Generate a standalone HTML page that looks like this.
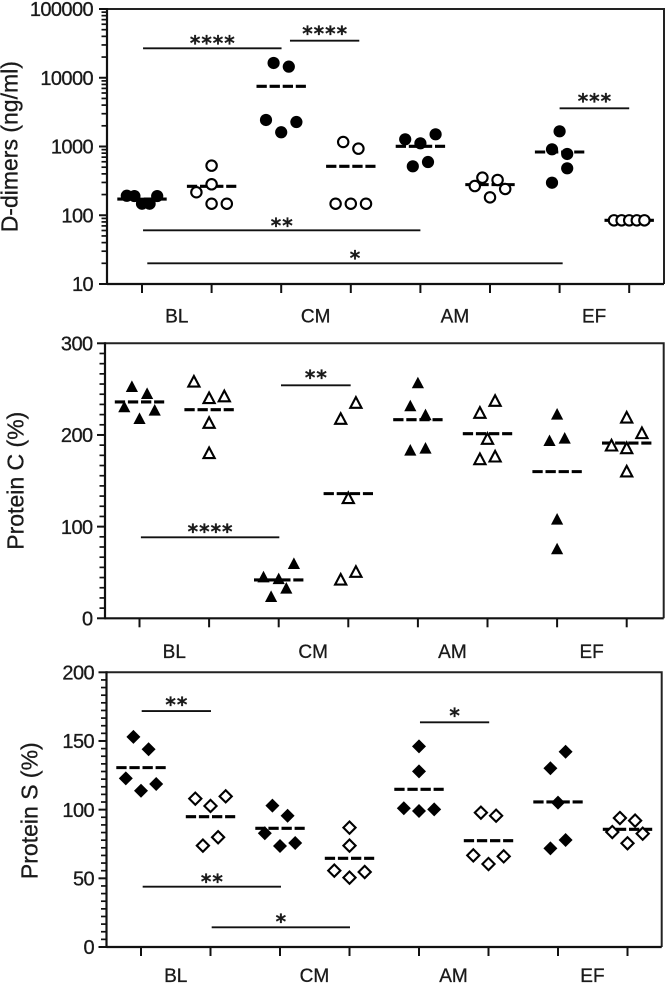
<!DOCTYPE html>
<html lang="en">
<head>
<meta charset="utf-8">
<title>Coagulation markers by group</title>
<style>
html,body{margin:0;padding:0;background:#fff;width:666px;height:984px;overflow:hidden}
svg{display:block}
text{font-family:"Liberation Sans",sans-serif;fill:#1a1a1a;stroke:#1a1a1a;stroke-width:0.3px}
</style>
</head>
<body>
<svg id="figure" width="666" height="984" viewBox="0 0 666 984" xmlns="http://www.w3.org/2000/svg"></svg>
<script>
const categories = ["BL", "CM", "AM", "EF"];

/* D-dimers (ng/ml) */
const dDimerTicks = [10, 100, 1000, 10000, 100000];
const dDimerValues = [
  [192, 190, 147, 147, 190],
  [216, 526, 282, 147, 147],
  [16400, 14500, 2430, 1610, 2270],
  [1162, 930, 147, 147, 147],
  [1273, 1112, 1503, 515, 595],
  [352, 326, 266, 241, 182],
  [1663, 910, 778, 482, 297],
  [84.4, 84.4, 84.4, 84.4, 84.4]
];
const dDimerSwarm = [
  [-2, -1, 0, 1, 2],
  [-2, 0, 0, 0, 2],
  [-1, 1, -2, 0, 2],
  [-1, 1, -2, 0, 2],
  [-2, 0, 2, -1, 1],
  [-1, 1, -2, 2, 0],
  [0, -1, 1, 1, -1],
  [-2, -1, 0, 1, 2]
];
const dDimerMeans = [172, 264, 7510, 515, 1007, 279, 832, 84.4];
const dDimerBracketFrom = [0.015, 2.126, 6, 0.015, 0.076];
const dDimerBracketTo = [2.005, 3.122, 7, 4, 6.044];
const dDimerBracketLevel = [26800, 34600, 3596, 60.4, 20];
const dDimerBracketStars = ["****", "****", "***", "**", "*"];
const dDimerBracketGap = [7.6, 9.7, 9.6, 7.3, 7.6];

/* Protein C (%) */
const proteinCTicks = [0, 100, 200, 300];
const proteinCValues = [
  [252.7, 245, 230.5, 226.9, 217.8],
  [258, 240, 242, 213, 180],
  [59.6, 45, 43, 32.7, 23.6],
  [234.9, 217.4, 130.9, 42, 50.5],
  [256.7, 231.6, 221.8, 183.3, 185.4],
  [237, 224, 195.6, 173.4, 176.3],
  [222.5, 193.7, 196.4, 108, 75.6],
  [218.8, 201.8, 188.3, 185.4, 160]
];
const proteinCSwarm = [
  [-1, 1, -2, 2, 0],
  [-2, 0, 2, 0, 0],
  [2, -2, 0, 1, -1],
  [1, -1, 0, -1, 1],
  [0, -1, 1, -1, 1],
  [1, -1, 0, -1, 1],
  [0, -1, 1, 0, 0],
  [0, 2, -2, 0, 0]
];
const proteinCMeans = [236, 227.6, 41.8, 136, 216.7, 201.4, 160, 191.2];
const proteinCBracketFrom = [2.033, 0.02];
const proteinCBracketTo = [3.034, 2.009];
const proteinCBracketLevel = [254.2, 88.4];
const proteinCBracketStars = ["**", "****"];
const proteinCBracketGap = [10, 8];

/* Protein S (%) */
const proteinSTicks = [0, 50, 100, 150, 200];
const proteinSValues = [
  [153, 144, 122.8, 118.7, 113.8],
  [108, 102.7, 109.7, 73.8, 79.9],
  [102.9, 95.6, 82.8, 75.7, 73.5],
  [86.9, 73.8, 55.6, 54.6, 50.5],
  [146.1, 127.9, 101, 99, 100.2],
  [97.8, 95.6, 66.7, 66, 60.4],
  [142.2, 130.1, 105.1, 77.9, 71.8],
  [93.9, 92, 83.7, 82.5, 75.5]
];
const proteinSSwarm = [
  [-1, 1, -2, 2, 0],
  [-2, 0, 2, -1, 1],
  [-1, 1, -2, 2, 0],
  [0, 0, -2, 2, 0],
  [0, 0, -2, 0, 2],
  [-1, 1, -2, 2, 0],
  [1, -1, 0, 1, -1],
  [-1, 1, -2, 2, 0]
];
const proteinSMeans = [130.6, 94.9, 86.4, 64.6, 114.8, 77.4, 105.6, 85.7];
const proteinSBracketFrom = [0.01, 0.024, 1.017, 4.014];
const proteinSBracketTo = [1.007, 2.014, 3.007, 5.01];
const proteinSBracketLevel = [171.8, 43.9, 14.3, 163.6];
const proteinSBracketStars = ["**", "**", "*", "*"];
const proteinSBracketGap = [9, 7.4, 8.3, 9];

const svg = document.getElementById('figure');
const NS = 'http://www.w3.org/2000/svg';

function make(tag, attrs, parent, text) {
  const el = document.createElementNS(NS, tag);
  for (const k in attrs) el.setAttribute(k, attrs[k]);
  if (text !== undefined) el.textContent = text;
  parent.appendChild(el);
  return el;
}

function drawMarker(g, shape, filled, cx, cy, name) {
  const fill = filled ? '#000' : '#fff';
  const sw = filled ? 0 : 2.1;
  let el;
  if (shape === 'circle') {
    el = make('circle', {cx: cx, cy: cy, r: filled ? 6.1 : 5.2, fill: fill, stroke: '#000', 'stroke-width': sw}, g);
  } else if (shape === 'triangle') {
    const h = filled ? 5.9 : 5.4;
    const pts = [[cx, cy - h - 0.4], [cx + h + 0.2, cy + h - 0.6], [cx - h - 0.2, cy + h - 0.6]];
    el = make('polygon', {points: pts.map(p => p.join(',')).join(' '), fill: fill, stroke: '#000', 'stroke-width': sw}, g);
  } else {
    const d = filled ? 7 : 6.1;
    const pts = [[cx, cy - d], [cx + d, cy], [cx, cy + d], [cx - d, cy]];
    el = make('polygon', {points: pts.map(p => p.join(',')).join(' '), fill: fill, stroke: '#000', 'stroke-width': sw}, g);
  }
  
  
}

function drawPanel(p) {
  const panel = make('g', {}, svg);
  
  

  const x = i => p.x0 + i * p.step;
  const y = p.log
    ? v => p.bottom - (Math.log10(v) - Math.log10(p.min)) / (Math.log10(p.max) - Math.log10(p.min)) * (p.bottom - p.top)
    : v => p.bottom - (v - p.min) / (p.max - p.min) * (p.bottom - p.top);

  /* frame */
  const frame = make('path', {d: `M${p.left} ${p.top}H${p.right}V${p.bottom}`, fill: 'none', stroke: '#222', 'stroke-width': 2}, panel);
  
  
  const yAxis = make('line', {x1: p.left, x2: p.left, y1: p.top - 1, y2: p.bottom + 1, stroke: '#111', 'stroke-width': 2.2}, panel);
  
  
  const xAxis = make('line', {x1: p.left, x2: p.right, y1: p.bottom, y2: p.bottom, stroke: '#111', 'stroke-width': 2.2}, panel);
  
  

  /* y ticks */
  p.ticks.forEach((t, i) => {
    const tick = make('line', {x1: p.left - 8, x2: p.left, y1: y(t), y2: y(t), stroke: '#111', 'stroke-width': 2}, panel);
    
    
    const label = make('text', {x: p.labelX, y: y(t) + 7.2, 'text-anchor': 'end', 'font-size': 20, 'letter-spacing': -0.6}, panel, String(t));
    
    
    if (i < p.ticks.length - 1) {
      for (let m = 1; m < 9; m++) {
        const v = p.log ? t * (m + 1) : t + (p.ticks[i + 1] - t) * m / 9;
        const minor = make('line', {x1: p.left - 5.5, x2: p.left, y1: y(v), y2: y(v), stroke: '#111', 'stroke-width': 1.7}, panel);
        
        
      }
    }
  });

  /* x ticks */
  for (let i = 0; i < 8; i++) {
    const tick = make('line', {x1: x(i), x2: x(i), y1: p.bottom, y2: p.bottom + 9, stroke: '#111', 'stroke-width': 2}, panel);
    
    
  }

  /* category labels */
  categories.forEach((c, i) => {
    const label = make('text', {x: x(2 * i) + p.step / 2 - (i > 0 ? 0.3 : 0), y: p.catY, 'text-anchor': 'middle', 'font-size': 19}, panel, c);
    
    
  });

  /* y title */
  const title = make('text', {transform: `translate(${p.titleX} ${p.titleY}) rotate(-90)`, 'text-anchor': 'middle', 'font-size': 23}, panel, p.title);
  
  

  /* series */
  p.values.forEach((group, gi) => {
    const g = make('g', {}, panel);
    
    
    const mean = make('line', {x1: x(gi) - 24.7, x2: x(gi) + 24.7, y1: y(p.means[gi]), y2: y(p.means[gi]), stroke: '#000', 'stroke-width': 3.1, 'stroke-dasharray': '10.3 2.8'}, g);
    
    
    group.forEach((v, k) => {
      drawMarker(g, p.shape, gi % 2 === 0, x(gi) + p.swarm[gi][k] * 7.6, y(v), p.name + '-point');
    });
  });

  /* significance brackets */
  p.bFrom.forEach((f, i) => {
    const x1 = x(f), x2 = x(p.bTo[i]), by = y(p.bLevel[i]);
    const bar = make('line', {x1: x1, x2: x2, y1: by, y2: by, stroke: '#111', 'stroke-width': 1.9}, panel);
    
    
    const stars = make('text', {x: (x1 + x2) / 2 + 0.5, y: by - p.bGap[i] + 9.4, 'text-anchor': 'middle', 'font-size': 20, 'font-weight': 'bold', 'letter-spacing': 1}, panel, p.bStars[i]);
    stars.style.fontFamily = '"DejaVu Sans",sans-serif';
    
    
  });
}

drawPanel({
  name: 'd-dimers', log: true, min: 10, max: 100000,
  left: 107, right: 664, top: 9, bottom: 284, x0: 142, step: 69.6,
  labelX: 93, catY: 322.7, title: 'D-dimers (ng/ml)', titleX: 17.5, titleY: 146.7,
  shape: 'circle', ticks: dDimerTicks, values: dDimerValues, swarm: dDimerSwarm, means: dDimerMeans,
  bFrom: dDimerBracketFrom, bTo: dDimerBracketTo, bLevel: dDimerBracketLevel, bStars: dDimerBracketStars, bGap: dDimerBracketGap
});
drawPanel({
  name: 'protein-c', log: false, min: 0, max: 300,
  left: 105, right: 663.7, top: 343.3, bottom: 618.3, x0: 139.5, step: 69.6,
  labelX: 92.5, catY: 658, title: 'Protein C (%)', titleX: 23.5, titleY: 480.7,
  shape: 'triangle', ticks: proteinCTicks, values: proteinCValues, swarm: proteinCSwarm, means: proteinCMeans,
  bFrom: proteinCBracketFrom, bTo: proteinCBracketTo, bLevel: proteinCBracketLevel, bStars: proteinCBracketStars, bGap: proteinCBracketGap
});
drawPanel({
  name: 'protein-s', log: false, min: 0, max: 200,
  left: 106.5, right: 661.7, top: 672.3, bottom: 947, x0: 141, step: 69.5,
  labelX: 94, catY: 982, title: 'Protein S (%)', titleX: 37.5, titleY: 810.7,
  shape: 'diamond', ticks: proteinSTicks, values: proteinSValues, swarm: proteinSSwarm, means: proteinSMeans,
  bFrom: proteinSBracketFrom, bTo: proteinSBracketTo, bLevel: proteinSBracketLevel, bStars: proteinSBracketStars, bGap: proteinSBracketGap
});
</script>
</body>
</html>
